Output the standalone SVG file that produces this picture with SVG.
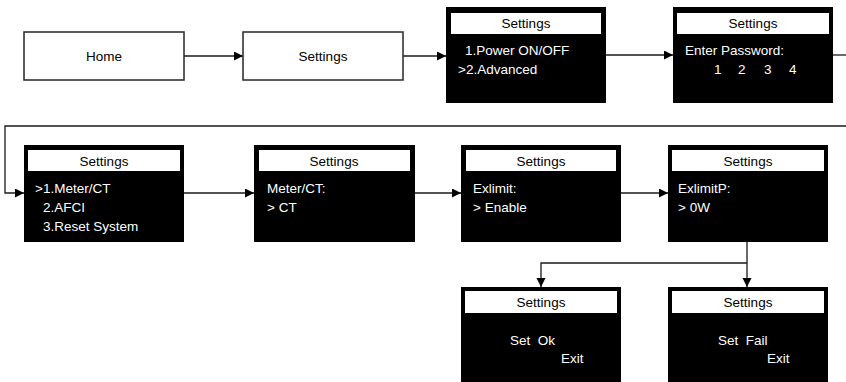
<svg xmlns="http://www.w3.org/2000/svg" width="846" height="382" viewBox="0 0 846 382">
<defs>
<marker id="arr" markerUnits="userSpaceOnUse" markerWidth="10" markerHeight="10" refX="9" refY="4.5" orient="auto">
<path d="M0,0 L9,4.5 L0,9 z" fill="#000"/>
</marker>
<style>
.box{fill:#fff;stroke:#262626;stroke-width:1.5}
.scr{fill:#000}
.bar{fill:#fff}
text{font-family:"Liberation Sans",Arial,sans-serif;font-size:13.5px;white-space:pre}
.t{fill:#000;text-anchor:middle}
.w{fill:#fff}
.c{fill:none;stroke:#1a1a1a;stroke-width:1.3}
</style>
</defs>
<rect width="846" height="382" fill="#fff"/>

<g id="connectors">
<path class="c" d="M184,56 H243" marker-end="url(#arr)"/>
<path class="c" d="M403,56 H446" marker-end="url(#arr)"/>
<path class="c" d="M606,55 H673" marker-end="url(#arr)"/>
<path class="c" d="M833,55 H846"/>
<path class="c" d="M846,126 H5 V193 H24" marker-end="url(#arr)"/>
<path class="c" d="M184,193 H254" marker-end="url(#arr)"/>
<path class="c" d="M415,193 H461" marker-end="url(#arr)"/>
<path class="c" d="M621,193 H668" marker-end="url(#arr)"/>
<path class="c" d="M747,242 V287" marker-end="url(#arr)"/>
<path class="c" d="M747,263 H541 V287" marker-end="url(#arr)"/>
</g>

<g id="home">
<rect class="box" x="24" y="32" width="160" height="48"/>
<text class="t" x="104" y="61">Home</text>
</g>

<g id="settings">
<rect class="box" x="243" y="32" width="160" height="48"/>
<text class="t" x="323" y="61">Settings</text>
</g>

<g id="screen-power">
<rect class="scr" x="446" y="7" width="160" height="96"/>
<rect class="bar" x="451" y="13" width="150" height="21"/>
<text class="t" x="526" y="28">Settings</text>
<text class="w" x="465" y="55">1.Power ON/OFF</text>
<text class="w" x="458" y="74">&gt;2.Advanced</text>
</g>

<g id="screen-password">
<rect class="scr" x="673" y="7" width="160" height="96"/>
<rect class="bar" x="677" y="13" width="152" height="21"/>
<text class="t" x="753" y="28">Settings</text>
<text class="w" x="685" y="55">Enter Password:</text>
<text class="w" x="714" y="74">1</text>
<text class="w" x="738" y="74">2</text>
<text class="w" x="764" y="74">3</text>
<text class="w" x="789" y="74">4</text>
</g>

<g id="screen-advanced">
<rect class="scr" x="24" y="145" width="160" height="97"/>
<rect class="bar" x="28" y="150" width="152" height="21"/>
<text class="t" x="104" y="166">Settings</text>
<text class="w" x="35" y="193">&gt;1.Meter/CT</text>
<text class="w" x="43" y="212">2.AFCI</text>
<text class="w" x="43" y="231">3.Reset System</text>
</g>

<g id="screen-meter">
<rect class="scr" x="254" y="145" width="161" height="97"/>
<rect class="bar" x="259" y="150" width="151" height="21"/>
<text class="t" x="334" y="166">Settings</text>
<text class="w" x="267" y="193">Meter/CT:</text>
<text class="w" x="267" y="212">&gt; CT</text>
</g>

<g id="screen-exlimit">
<rect class="scr" x="461" y="145" width="160" height="97"/>
<rect class="bar" x="466" y="150" width="150" height="21"/>
<text class="t" x="541" y="166">Settings</text>
<text class="w" x="473" y="193">Exlimit:</text>
<text class="w" x="473" y="212">&gt; Enable</text>
</g>

<g id="screen-exlimitp">
<rect class="scr" x="668" y="145" width="160" height="97"/>
<rect class="bar" x="672" y="150" width="152" height="21"/>
<text class="t" x="748" y="166">Settings</text>
<text class="w" x="678" y="193">ExlimitP:</text>
<text class="w" x="678" y="212">&gt; 0W</text>
</g>

<g id="screen-ok">
<rect class="scr" x="461" y="287" width="160" height="95"/>
<rect class="bar" x="465" y="291" width="152" height="22"/>
<text class="t" x="541" y="307">Settings</text>
<text class="w" x="510" y="345">Set  Ok</text>
<text class="w" x="561" y="363">Exit</text>
</g>

<g id="screen-fail">
<rect class="scr" x="668" y="287" width="160" height="95"/>
<rect class="bar" x="672" y="291" width="152" height="22"/>
<text class="t" x="748" y="307">Settings</text>
<text class="w" x="718" y="345">Set  Fail</text>
<text class="w" x="767" y="363">Exit</text>
</g>
</svg>
